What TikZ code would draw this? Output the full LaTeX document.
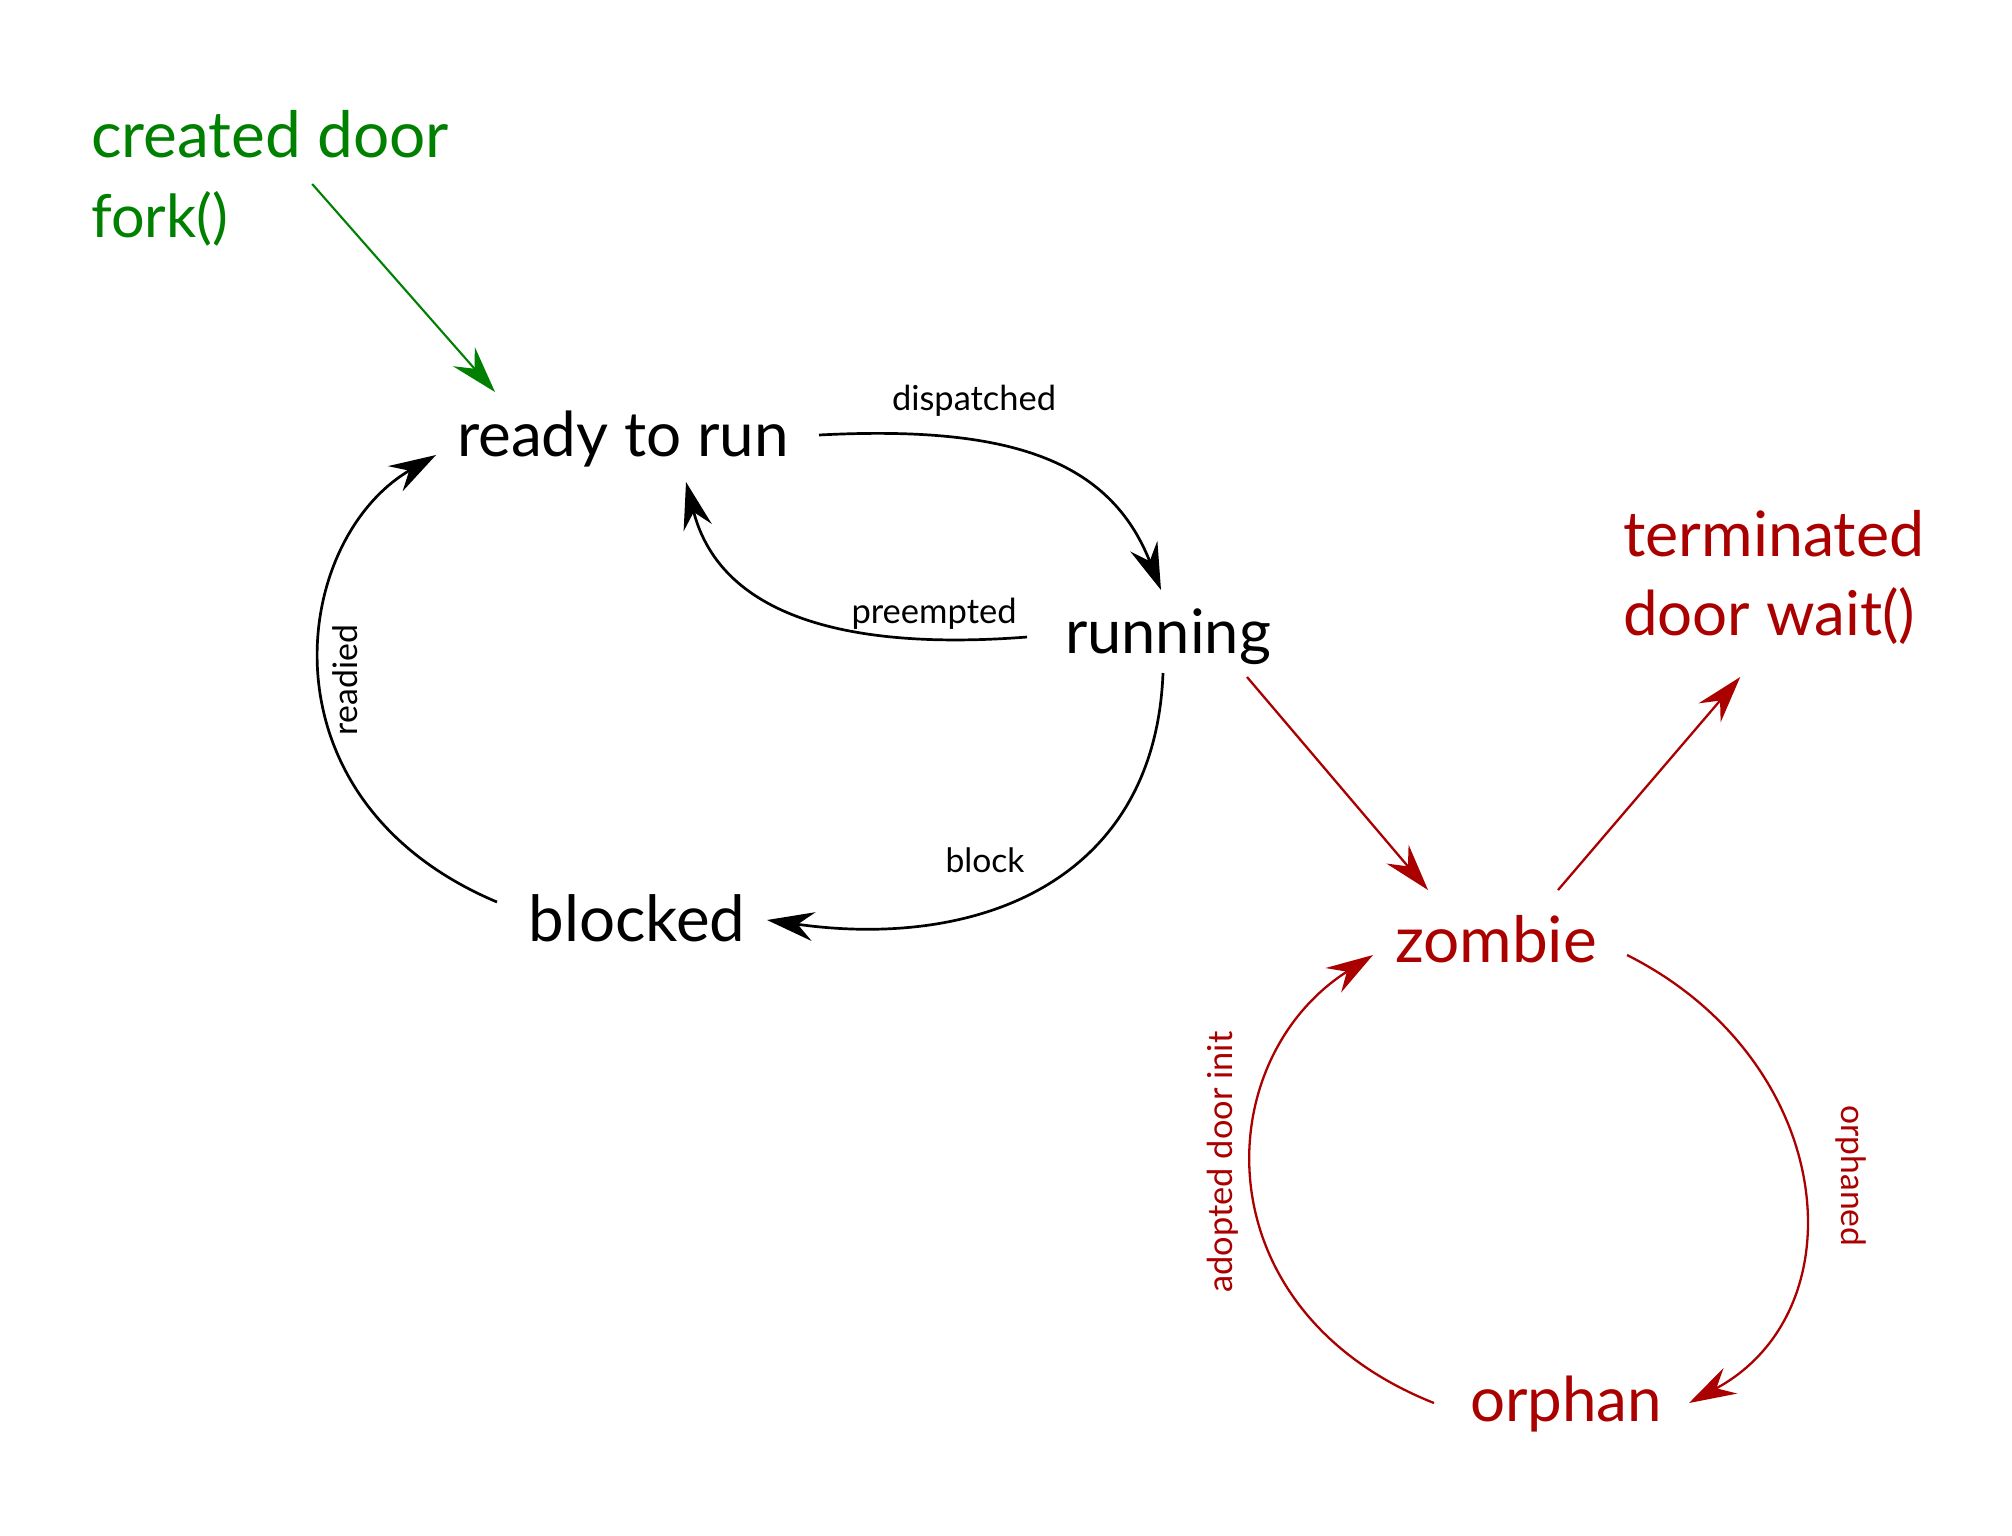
\documentclass[tikz,border=0pt]{standalone}
\usepackage{fontspec}
\setmainfont{Lato}
\usetikzlibrary{arrows.meta,calc}
\definecolor{cgreen}{RGB}{0,128,0}
\definecolor{cred}{RGB}{170,0,0}
\newcommand\fw[2]{\resizebox{#1pt}{!}{#2}}
\begin{document}
\begin{tikzpicture}[x=1pt,y=-1pt,
  statetext/.style={inner sep=0pt,font=\fontsize{64}{80}\selectfont},
  smalllbl/.style={inner sep=0pt,font=\fontsize{32}{40}\selectfont},
  arrowtip/.style={-{Stealth[length=47pt,width=29pt,inset=16pt]}},
  blk/.style={arrowtip,line width=2.7pt,draw=black},
  grn/.style={arrowtip,line width=2.1pt,draw=cgreen,fill=cgreen},
  rd/.style={arrowtip,line width=2.3pt,draw=cred}]
\useasboundingbox (0,0) rectangle (2012,1535);
\fill[white] (0,0) rectangle (2012,1535);

% states
\node[statetext,anchor=base] (ready) at (623,456) {\fw{332}{ready to run}};
\node[statetext,anchor=base] (running) at (1168,653) {\fw{206}{running}};
\node[statetext,anchor=base] (blocked) at (637,941) {\fw{217}{blocked}};
\node[statetext,anchor=base,text=cred] (zombie) at (1496,962) {\fw{202}{zombie}};
\node[statetext,anchor=base,text=cred] (orphan) at (1566,1421) {\fw{192}{orphan}};
\node[statetext,anchor=base west,text=cred] (terminated) at (1623,556) {\fw{301}{terminated}};
\node[statetext,anchor=base west,text=cred] (doorwait) at (1623,635) {\fw{292}{door wait()}};
\node[statetext,anchor=base west,text=cgreen] (created) at (91,157) {\fw{358}{created door}};
\node[statetext,anchor=base west,text=cgreen] (fork) at (91,237) {\fw{137}{fork()}};

% labels
\node[smalllbl,anchor=base] (dispatched) at (974,410) {\fw{164}{dispatched}};
\node[smalllbl,anchor=base] (preempted) at (934,623) {\fw{165}{preempted}};
\node[smalllbl,anchor=base] (blocklbl) at (985,872) {\fw{79}{block}};
\node[smalllbl,anchor=base,rotate=90] (readied) at (357,680) {\fw{110}{readied}};
\node[smalllbl,anchor=base,rotate=90,text=cred] (adopted) at (1232,1162) {\fw{261}{adopted door init}};
\node[smalllbl,anchor=base,rotate=-90,text=cred] (orphaned) at (1841,1176) {\fw{141}{orphaned}};

% connectors
\draw[grn] ($(created.base)+(42,27)$) -- ($(ready.base)+(-128,-64)$);
\draw[blk] ($(ready.base)+(196,-21)$) .. controls (1010,425) and (1110,460) .. ($(running.base)+(-7,-63)$);
\draw[blk] ($(running.base)+(-141,-16)$) .. controls (860,650) and (722,622) .. ($(ready.base)+(63,26)$);
\draw[blk] ($(running.base)+(-5,20)$) .. controls (1155,880) and (980,950) .. ($(blocked.base)+(130,-21)$);
\draw[blk] ($(blocked.base)+(-140,-39)$) .. controls (255,800) and (290,540) .. ($(ready.base)+(-187,-1)$);
\draw[rd] ($(running.base)+(79,24)$) -- ($(zombie.base)+(-68,-72)$);
\draw[rd] ($(zombie.base)+(62,-72)$) -- ($(doorwait.base)+(-29,42)$);
\draw[rd] ($(zombie.base)+(131,-7)$) .. controls (1836,1060) and (1862,1310) .. ($(orphan.base)+(123,-18)$);
\draw[rd] ($(orphan.base)+(-132,-18)$) .. controls (1200,1310) and (1208,1060) .. ($(zombie.base)+(-123,-7)$);
\end{tikzpicture}
\end{document}
